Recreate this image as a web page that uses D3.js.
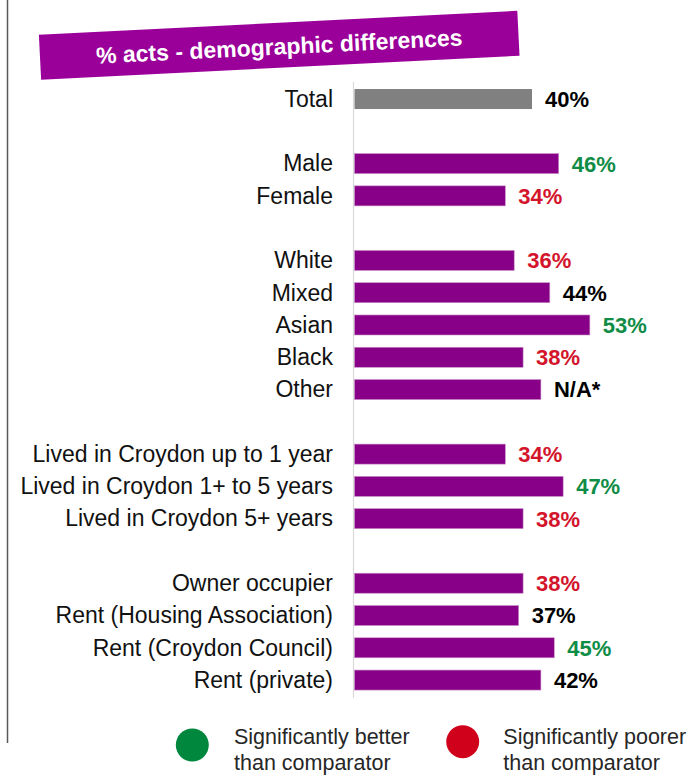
<!DOCTYPE html>
<html>
<head>
<meta charset="utf-8">
<script src="https://cdn.jsdelivr.net/npm/d3@7"></script>
<style>
  html, body { margin: 0; padding: 0; background: #ffffff; }
  svg { display: block; font-family: "Liberation Sans", Arial, sans-serif; }
</style>
</head>
<body>
<svg id="chart" width="696" height="776"></svg>
<script>
// Rows of the chart; empty strings are spacer rows between groups
const categories = [
  "Total", "",
  "Male", "Female", "",
  "White", "Mixed", "Asian", "Black", "Other", "",
  "Lived in Croydon up to 1 year", "Lived in Croydon 1+ to 5 years", "Lived in Croydon 5+ years", "",
  "Owner occupier", "Rent (Housing Association)", "Rent (Croydon Council)", "Rent (private)"
];
// % acts per row (null for spacer rows)
const values = [
  40, null,
  46, 34, null,
  36, 44, 53, 38, 42, null,
  34, 47, 38, null,
  38, 37, 45, 42
];
// Significance against the comparator: "better", "poorer" or "none"
const significance = [
  "none", null,
  "better", "poorer", null,
  "poorer", "none", "better", "poorer", "none", null,
  "poorer", "better", "poorer", null,
  "poorer", "none", "better", "none"
];
// Label overrides (the base for "Other" is too small to report)
const labelOverrides = { "Other": "N/A*" };

const titleText = "% acts - demographic differences";
const legendItems = [
  { key: "better", lines: ["Significantly better", "than comparator"] },
  { key: "poorer", lines: ["Significantly poorer", "than comparator"] }
];

const sigColor = { better: "#0f8c45", poorer: "#d3142b", none: "#000000" };
const dotColor = { better: "#00873e", poorer: "#d0021b" };

const svg = d3.select("#chart");

const rows = categories.map((c, i) => ({
  key: c === "" ? "gap" + i : c,
  label: c,
  value: values[i],
  sig: significance[i],
  isTotal: i === 0
}));

// Scales
const x = d3.scaleLinear().domain([0, 100]).range([354, 799]);
const y = d3.scaleBand()
  .domain(rows.map(d => d.key))
  .range([82.9, 696.2])
  .paddingInner(0.38)
  .paddingOuter(0.19);

// Left frame line
svg.append("line")
  .attr("x1", 7.5).attr("x2", 7.5)
  .attr("y1", 0).attr("y2", 743)
  .attr("stroke", "#595959").attr("stroke-width", 1.5);

// Title banner, slightly tilted
const banner = svg.append("g")
  .attr("transform", "translate(279.2,45.3) rotate(-2.87)");
banner.append("rect")
  .attr("x", -239.5).attr("y", -22.5)
  .attr("width", 479).attr("height", 45)
  .attr("fill", "#9a0099");
banner.append("text")
  .attr("text-anchor", "middle")
  .attr("dy", "0.4em")
  .attr("fill", "#ffffff")
  .attr("font-weight", "bold")
  .attr("font-size", 23)
  .text(titleText);

// Category axis line
svg.append("line")
  .attr("x1", 353.5).attr("x2", 353.5)
  .attr("y1", 82).attr("y2", 698)
  .attr("stroke", "#d9d9d9").attr("stroke-width", 1.2);

const dataRows = rows.filter(d => d.value !== null);

// Bars
svg.append("g").selectAll("rect")
  .data(dataRows)
  .join("rect")
  .attr("x", x(0) + 0.5)
  .attr("y", d => y(d.key))
  .attr("width", d => x(d.value) - x(0) - 0.5)
  .attr("height", y.bandwidth())
  .attr("fill", d => d.isTotal ? "#808080" : "#870087")
  .attr("stroke", d => d.isTotal ? "none" : "#c98fc9")
  .attr("stroke-width", 0.6);

// Category labels
svg.append("g").selectAll("text")
  .data(dataRows)
  .join("text")
  .attr("x", 333)
  .attr("y", d => y(d.key) + y.bandwidth() / 2)
  .attr("dy", "0.34em")
  .attr("text-anchor", "end")
  .attr("font-size", 23)
  .attr("fill", "#111111")
  .text(d => d.label);

// Value labels
svg.append("g").selectAll("text")
  .data(dataRows)
  .join("text")
  .attr("x", d => x(d.value) + 13)
  .attr("y", d => y(d.key) + y.bandwidth() / 2)
  .attr("dy", "0.36em")
  .attr("font-size", 22)
  .attr("font-weight", "bold")
  .attr("fill", d => sigColor[d.sig])
  .text(d => labelOverrides[d.label] || d3.format("d")(d.value) + "%");

// Legend
const legendPos = { better: { cx: 192.3, cy: 745, tx: 234 }, poorer: { cx: 462.7, cy: 741.7, tx: 503.3 } };
const legend = svg.append("g").selectAll("g")
  .data(legendItems)
  .join("g");
legend.append("circle")
  .attr("cx", d => legendPos[d.key].cx)
  .attr("cy", d => legendPos[d.key].cy)
  .attr("r", 16.5)
  .attr("fill", d => dotColor[d.key]);
legend.append("text")
  .attr("font-size", 21.5)
  .attr("fill", "#262626")
  .selectAll("tspan")
  .data(d => d.lines.map((t, i) => ({ t, i, key: d.key })))
  .join("tspan")
  .attr("x", d => legendPos[d.key].tx)
  .attr("y", d => 744.3 + d.i * 25.7)
  .text(d => d.t);
</script>
</body>
</html>
